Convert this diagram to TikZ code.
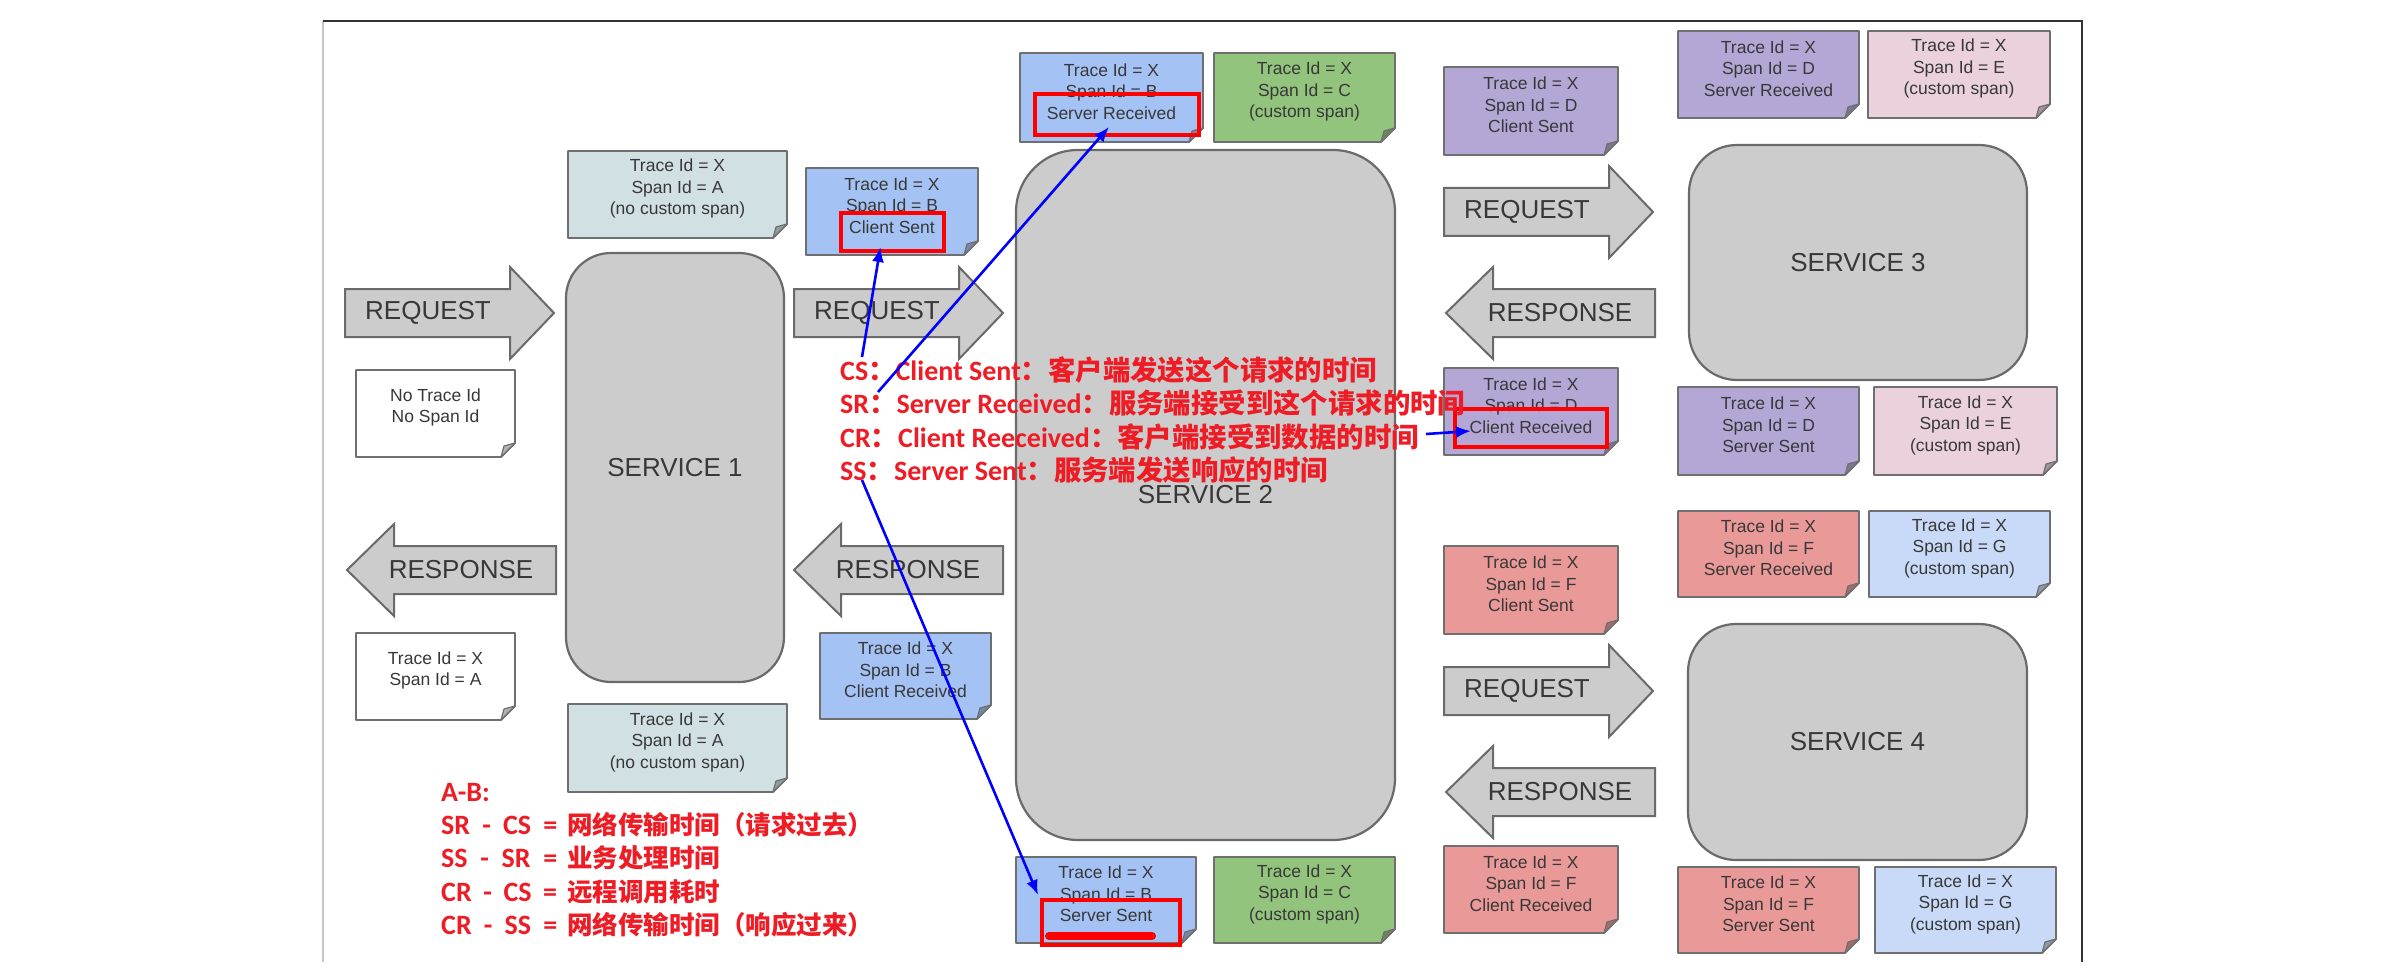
\documentclass[tikz,border=0pt]{standalone}
\usepackage{fontspec}
\setmainfont{Liberation Sans}
\newfontfamily\cjkfont{Noto Sans CJK SC}
\newfontfamily\latfont{Carlito}
\usetikzlibrary{arrows.meta,calc}
\definecolor{cA}{HTML}{D0E0E3}
\definecolor{cB}{HTML}{A4C2F4}
\definecolor{cC}{HTML}{93C47D}
\definecolor{cD}{HTML}{B4A7D6}
\definecolor{cE}{HTML}{EAD1DC}
\definecolor{cF}{HTML}{EA9999}
\definecolor{cG}{HTML}{C9DAF8}
\definecolor{cW}{HTML}{FFFFFF}
\definecolor{notebd}{HTML}{6F6F6F}
\definecolor{svfill}{HTML}{CCCCCC}
\definecolor{svbd}{HTML}{6A6A6A}
\definecolor{txt}{HTML}{383838}
\definecolor{redtxt}{HTML}{EE1C25}
\definecolor{redbox}{HTML}{FF0000}
\definecolor{bluearr}{HTML}{0000FF}
\newcommand{\latA}[1]{{\latfont\bfseries\fontsize{28}{33}\selectfont #1}}
\newcommand{\latB}[1]{{\latfont\bfseries\fontsize{28}{33}\selectfont #1}}
\newcommand{\spannote}[7]{%
  \filldraw[fill=#6, draw=notebd, line width=1.8pt, line join=round]
    (#2,#3) -- (#4,#3) -- (#4,{#5-14}) -- ({#4-14},#5) -- (#2,#5) -- cycle;
  \filldraw[fill=#6!70!black, draw=notebd, line width=1.2pt, line join=round]
    (#4,{#5-14}) -- ({#4-14},#5) -- ({#4-11},{#5-11}) -- cycle;
  \node[notetext] (#1) at ({(#2+#4)/2},{(#3+#5)/2-6}) {#7};
}
% right-pointing arrow: name, left x, centre y, text
\newcommand{\rarrow}[4]{%
  \filldraw[arrowshape] (#2,{#3-24}) -- ({#2+165},{#3-24}) -- ({#2+165},{#3-46}) -- ({#2+209},#3)
    -- ({#2+165},{#3+46}) -- ({#2+165},{#3+24}) -- (#2,{#3+24}) -- cycle;
  \node[arrowtext] (#1) at ({#2+83},#3) {#4};
}
% left-pointing arrow: name, tip x, centre y, text
\newcommand{\larrow}[4]{%
  \filldraw[arrowshape] (#2,#3) -- ({#2+47},{#3-46}) -- ({#2+47},{#3-24}) -- ({#2+209},{#3-24})
    -- ({#2+209},{#3+24}) -- ({#2+47},{#3+24}) -- ({#2+47},{#3+46}) -- cycle;
  \node[arrowtext] (#1) at ({#2+114},#3) {#4};
}
\begin{document}
\begin{tikzpicture}[x=1pt,y=-1pt,
  notetext/.style={text=txt, align=center, inner sep=0pt, font=\fontsize{17.5}{21.5}\selectfont},
  arrowshape/.style={fill=svfill, draw=svbd, line width=2pt, line join=miter},
  arrowtext/.style={text=txt, inner sep=0pt, font=\fontsize{26}{30}\selectfont},
  service/.style={draw=svbd, fill=svfill, line width=2.2pt, text=txt, font=\fontsize{26}{30}\selectfont},
  redframe/.style={draw=redbox, line width=4pt, inner sep=0pt},
  redtop/.style={text=redtxt, inner sep=0pt, anchor=base west, font=\cjkfont\bfseries\fontsize{27.4}{33}\selectfont},
  redbot/.style={text=redtxt, inner sep=0pt, anchor=base west, font=\cjkfont\bfseries\fontsize{25.5}{30}\selectfont},
  bluelink/.style={draw=bluearr, line width=2.6pt, -{Latex[length=15pt,width=12pt]}}
]
\useasboundingbox (0,0) rectangle (2384,976);
\fill[white] (0,0) rectangle (2384,976);
% frame
\draw[line width=1.5pt, draw=black!22] (323,21) -- (323,962);
\draw[line width=2.5pt, draw=black!80] (323,21) -- (2082,21) -- (2082,962);

% services
\node[service, minimum width=218pt, minimum height=429pt, rounded corners=45pt] (s1) at (675,467.5) {SERVICE 1};
\node[service, minimum width=379pt, minimum height=690pt, rounded corners=62pt] (s2) at (1205.5,495) {SERVICE 2};
\node[service, minimum width=338pt, minimum height=235pt, rounded corners=48pt] (s3) at (1858,262.5) {SERVICE 3};
\node[service, minimum width=339pt, minimum height=236pt, rounded corners=48pt] (s4) at (1857.5,742) {SERVICE 4};

% request / response arrows
\rarrow{req1}{345}{313}{REQUEST}
\larrow{res1}{347}{570}{RESPONSE}
\rarrow{req2}{794}{313}{REQUEST}
\larrow{res2}{794}{570}{RESPONSE}
\rarrow{req3}{1444}{212}{REQUEST}
\larrow{res3}{1446}{313}{RESPONSE}
\rarrow{req4}{1444}{691}{REQUEST}
\larrow{res4}{1446}{792}{RESPONSE}

% span notes
\spannote{nA1}{568}{151}{787}{238}{cA}{Trace Id = X\\Span Id = A\\(no custom span)}
\spannote{nBcs}{806}{168}{978}{255}{cB}{Trace Id = X\\Span Id = B\\Client Sent}
\spannote{nNo}{356}{370}{515}{457}{cW}{No Trace Id\\No Span Id}
\spannote{nAw}{356}{633}{515}{720}{cW}{Trace Id = X\\Span Id = A}
\spannote{nA2}{568}{704}{787}{792}{cA}{Trace Id = X\\Span Id = A\\(no custom span)}
\spannote{nBcr}{820}{633}{991}{719}{cB}{Trace Id = X\\Span Id = B\\Client Received}
\spannote{nBsr}{1020}{53}{1203}{142}{cB}{Trace Id = X\\Span Id = B\\Server Received}
\spannote{nCt}{1214}{53}{1395}{142}{cC}{Trace Id = X\\Span Id = C\\(custom span)}
\spannote{nBss}{1016}{857}{1196}{943}{cB}{Trace Id = X\\Span Id = B\\Server Sent}
\spannote{nCb}{1214}{857}{1395}{943}{cC}{Trace Id = X\\Span Id = C\\(custom span)}
\spannote{nDcs}{1444}{67}{1618}{155}{cD}{Trace Id = X\\Span Id = D\\Client Sent}
\spannote{nDcr}{1444}{368}{1618}{455}{cD}{Trace Id = X\\Span Id = D\\Client Received}
\spannote{nFcs}{1444}{546}{1618}{634}{cF}{Trace Id = X\\Span Id = F\\Client Sent}
\spannote{nFcr}{1444}{846}{1618}{933}{cF}{Trace Id = X\\Span Id = F\\Client Received}
\spannote{nDsr}{1678}{31}{1859}{118}{cD}{Trace Id = X\\Span Id = D\\Server Received}
\spannote{nEt}{1868}{31}{2050}{118}{cE}{Trace Id = X\\Span Id = E\\(custom span)}
\spannote{nDss}{1678}{387}{1859}{475}{cD}{Trace Id = X\\Span Id = D\\Server Sent}
\spannote{nEb}{1874}{387}{2057}{475}{cE}{Trace Id = X\\Span Id = E\\(custom span)}
\spannote{nFsr}{1678}{511}{1859}{597}{cF}{Trace Id = X\\Span Id = F\\Server Received}
\spannote{nGt}{1869}{511}{2050}{597}{cG}{Trace Id = X\\Span Id = G\\(custom span)}
\spannote{nFss}{1678}{867}{1859}{953}{cF}{Trace Id = X\\Span Id = F\\Server Sent}
\spannote{nGb}{1875}{867}{2056}{953}{cG}{Trace Id = X\\Span Id = G\\(custom span)}

% red highlight boxes
\node[redframe, minimum width=103pt, minimum height=38pt] (rCS) at (892.5,232) {};
\node[redframe, minimum width=164pt, minimum height=41pt] (rSR) at (1117,114.5) {};
\node[redframe, minimum width=152pt, minimum height=38pt] (rCR) at (1531,428) {};
\node[redframe, minimum width=138pt, minimum height=45pt] (rSS) at (1111,922.5) {};
\draw[redbox, line width=8pt, line cap=round] ([xshift=9pt,yshift=11pt]rSS.south west) -- ([xshift=-30pt,yshift=11pt]rSS.south east);

% red explanatory text
\node[redtop] (tCS) at (840,380) {\latA{CS}：\latA{Client Sent}：客户端发送这个请求的时间};
\node[redtop] (tSR) at (840,413.5) {\latA{SR}：\latA{Server Received}：服务端接受到这个请求的时间};
\node[redtop] (tCR) at (840,447) {\latA{CR}：\latA{Client Reeceived}：客户端接受到数据的时间};
\node[redtop] (tSS) at (840,480.5) {\latA{SS}：\latA{Server Sent}：服务端发送响应的时间};

\node[redbot] (tAB) at (441,801) {\latB{A-B:}};
\node[redbot] (t1) at (441,834) {\makebox[116pt][s]{\latB{SR - CS =}}\hspace{10pt}网络传输时间（请求过去）};
\node[redbot] (t2) at (441,867) {\makebox[116pt][s]{\latB{SS - SR =}}\hspace{10pt}业务处理时间};
\node[redbot] (t3) at (441,901) {\makebox[116pt][s]{\latB{CR - CS =}}\hspace{10pt}远程调用耗时};
\node[redbot] (t4) at (441,934) {\makebox[116pt][s]{\latB{CR - SS =}}\hspace{10pt}网络传输时间（响应过来）};

% blue connectors
\coordinate (cs0) at (862,357);
\coordinate (sr0) at (878,392);
\coordinate (cr0) at (1426,434);
\coordinate (ss0) at (862,480);
\draw[bluelink] (cs0) -- ([xshift=-12pt,yshift=6pt]rCS.south);
\draw[bluelink] (sr0) -- ([xshift=-8pt,yshift=10pt]rSR.south);
\draw[bluelink] (cr0) -- ([xshift=18pt,yshift=-3pt]rCR.west);
\draw[bluelink] (ss0) -- ([xshift=-2pt,yshift=3pt]rSS.north west);
\end{tikzpicture}
\end{document}
